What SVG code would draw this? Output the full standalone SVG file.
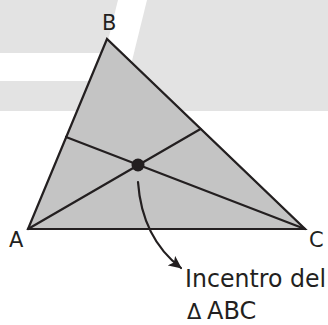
<svg xmlns="http://www.w3.org/2000/svg" width="328" height="325" viewBox="0 0 328 325">
<defs>
<style>
.ln{stroke:#231f20;stroke-width:2.2;fill:none;stroke-linecap:round;stroke-linejoin:round}
.tri{stroke:#231f20;stroke-width:2.2;fill:#c4c4c4;stroke-linejoin:miter}
.lbl{font-family:"DejaVu Sans","Liberation Sans",sans-serif;fill:#231f20}
</style>
<marker id="ah" markerWidth="14" markerHeight="12" refX="12" refY="6" orient="auto" markerUnits="userSpaceOnUse">
<path d="M0,0 L13,6 L0,12 L3,6 Z" fill="#231f20"/>
</marker>
</defs>
<rect width="328" height="325" fill="#ffffff"/>
<g id="background">
<rect x="0" y="0" width="328" height="111" fill="#e3e3e3"/>
<polygon points="118,0 147,0 127,81 98,81" fill="#ffffff"/>
<rect x="0" y="53" width="110" height="28" fill="#ffffff"/>
</g>
<g id="triangle">
<polygon points="28,229 107,39 305,229" class="tri"/>
</g>
<g id="connectors">
<line x1="28" y1="229" x2="200.5" y2="129" class="ln"/>
<line x1="305" y1="229" x2="66" y2="137" class="ln"/>
<path d="M138,182 Q142,238 181,268" class="ln" marker-end="url(#ah)"/>
</g>
<g id="incenter">
<circle cx="138" cy="165" r="6.5" fill="#231f20"/>
</g>
<g id="labels">
<text x="102" y="30" class="lbl" font-size="21">B</text>
<text x="9" y="247" class="lbl" font-size="21">A</text>
<text x="309" y="247" class="lbl" font-size="21">C</text>
<text x="185" y="287" class="lbl" font-size="24" textLength="141" lengthAdjust="spacingAndGlyphs">Incentro del</text>
<text x="187" y="319" class="lbl" font-size="21">Δ</text>
<text x="207" y="319" class="lbl" font-size="24">ABC</text>
</g>
</svg>
